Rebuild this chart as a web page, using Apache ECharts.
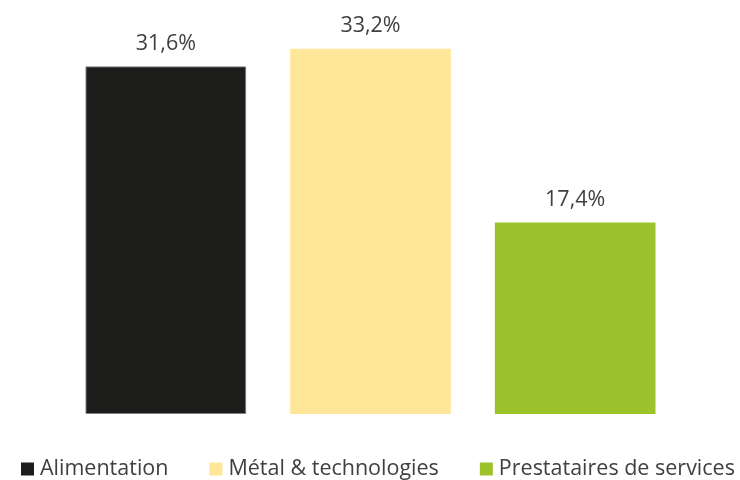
<!DOCTYPE html>
<html><head><meta charset="utf-8">
<script src="https://cdn.jsdelivr.net/npm/echarts@6/dist/echarts.min.js"></script>
<style>html,body{margin:0;padding:0;background:#fff}#c{width:740px;height:480px}</style>
</head><body><div id="c"></div>
<script>
const categories = ['Alimentation', 'Métal & technologies', 'Prestataires de services'];
const values = [31.6, 33.2, 17.4];
const colors = ['#1d1d1b', '#ffe699', '#9dc32c'];
const chart = echarts.init(document.getElementById('c'));
const font = 'Open Sans';
const series = categories.map((name, i) => ({
  name: name,
  type: 'bar',
  stack: 'all',
  barWidth: '78.5%',
  data: categories.map((c, j) => j === i ? values[i] : '-'),
  itemStyle: { color: colors[i], borderColor: i === 0 ? '#7f7f7f' : colors[i], borderWidth: i === 0 ? 1 : 0 },
  label: {
    show: true, position: 'top', distance: 12,
    formatter: p => p.value.toFixed(1).replace('.', ',') + '%',
    fontFamily: font, fontSize: 21.5, color: '#404040'
  }
}));
chart.setOption({
  animation: false,
  grid: { left: 63.5, right: 62.5, top: 29, bottom: 66 },
  xAxis: { type: 'category', data: categories, show: false },
  yAxis: { type: 'value', min: 0, max: 35, show: false },
  legend: {
    top: 453, left: 16,
    icon: 'rect', itemWidth: 13, itemHeight: 13, itemGap: 41,
    itemStyle: { borderWidth: 0 },
    textStyle: { fontFamily: font, fontSize: 21.5, color: '#404040', padding: [0, 0, 0, 1] },
    data: categories
  },
  series: series
});
</script></body></html>
